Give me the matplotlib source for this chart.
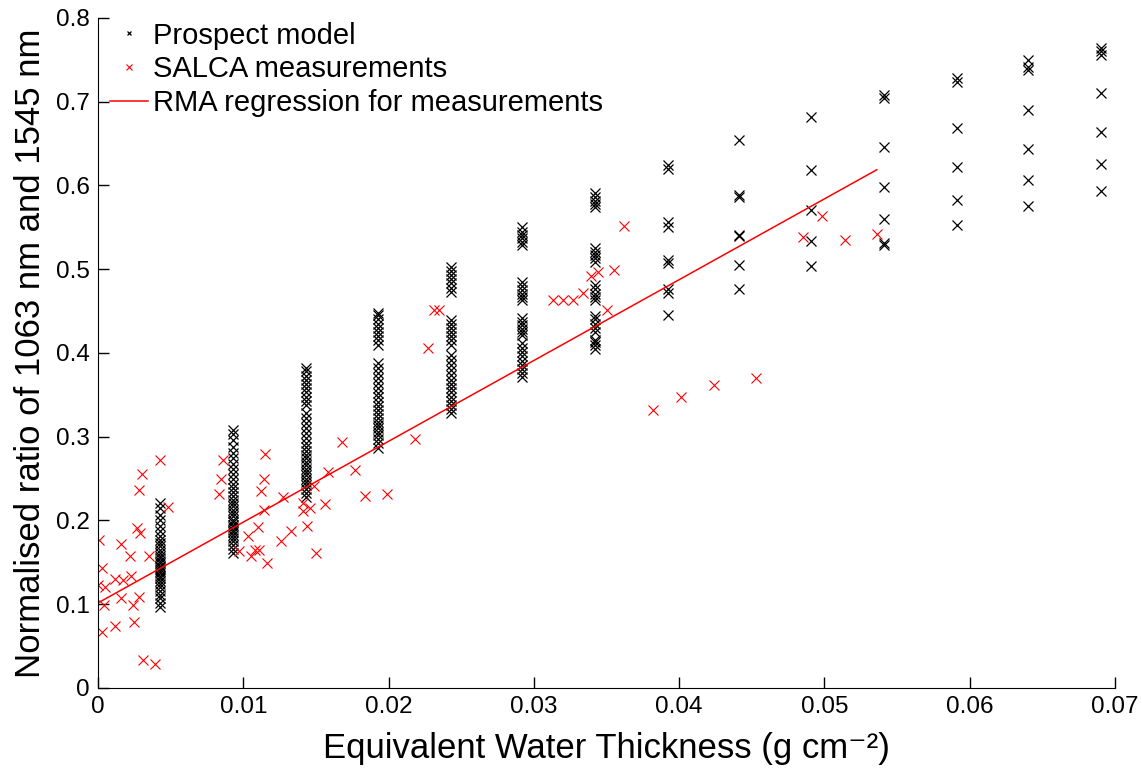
import matplotlib
matplotlib.use("Agg")
from matplotlib import pyplot as plt
import numpy as np

plt.rcParams['font.family'] = ['Liberation Sans', 'DejaVu Sans']

# Prospect model: EWT value of each column and the ratios simulated at it
ewt_model = [0.0043, 0.0093, 0.0143, 0.0193, 0.0243, 0.0292, 0.0342,
             0.0392, 0.0441, 0.0491, 0.0541, 0.0591, 0.0640, 0.0690]
ratio_model = [
    [0.097, 0.102, 0.107, 0.111, 0.116, 0.120, 0.124, 0.128, 0.131, 0.134, 0.137,
     0.140, 0.142, 0.144, 0.146, 0.149, 0.152, 0.155, 0.158, 0.161, 0.165, 0.169,
     0.173, 0.177, 0.182, 0.187, 0.193, 0.200, 0.207, 0.215, 0.221],
    [0.161, 0.166, 0.171, 0.175, 0.179, 0.183, 0.186, 0.189, 0.192, 0.195, 0.198,
     0.201, 0.205, 0.209, 0.213, 0.217, 0.221, 0.225, 0.229, 0.234, 0.239, 0.244,
     0.249, 0.255, 0.261, 0.267, 0.274, 0.281, 0.288, 0.296, 0.303, 0.308],
    [0.228, 0.233, 0.238, 0.242, 0.246, 0.250, 0.254, 0.258, 0.262, 0.266, 0.270,
     0.274, 0.278, 0.283, 0.288, 0.293, 0.298, 0.304, 0.310, 0.316, 0.322, 0.328,
     0.338, 0.343, 0.348, 0.353, 0.358, 0.363, 0.368, 0.373, 0.378, 0.382],
    [0.287, 0.292, 0.297, 0.302, 0.306, 0.310, 0.314, 0.318, 0.322, 0.327, 0.332,
     0.337, 0.342, 0.347, 0.352, 0.358, 0.364, 0.370, 0.376, 0.382, 0.388,
     0.410, 0.415, 0.420, 0.425, 0.430, 0.435, 0.440, 0.445, 0.448],
    [0.328, 0.333, 0.338, 0.343, 0.348, 0.353, 0.358, 0.363, 0.368, 0.374, 0.380,
     0.386, 0.392, 0.398, 0.410, 0.415, 0.420, 0.425, 0.430, 0.435, 0.439,
     0.473, 0.478, 0.483, 0.488, 0.493, 0.498, 0.503],
    [0.371, 0.376, 0.381, 0.386, 0.391, 0.396, 0.401, 0.406, 0.412,
     0.421, 0.425, 0.429, 0.433, 0.437, 0.442, 0.463, 0.467, 0.471, 0.475, 0.480,
     0.485, 0.529, 0.533, 0.537, 0.541, 0.545, 0.550],
    [0.405, 0.409, 0.413, 0.416, 0.425, 0.430, 0.435, 0.440, 0.444, 0.463, 0.467,
     0.471, 0.476, 0.481, 0.509, 0.513, 0.517, 0.521, 0.525, 0.574, 0.578, 0.582,
     0.586, 0.591],
    [0.445, 0.472, 0.476, 0.507, 0.511, 0.551, 0.556, 0.620, 0.624],
    [0.476, 0.505, 0.540, 0.541, 0.586, 0.589, 0.654],
    [0.504, 0.534, 0.571, 0.618, 0.682],
    [0.529, 0.531, 0.560, 0.598, 0.646, 0.704, 0.708],
    [0.553, 0.583, 0.622, 0.669, 0.724, 0.728],
    [0.575, 0.607, 0.644, 0.690, 0.738, 0.742, 0.750],
    [0.593, 0.626, 0.664, 0.710, 0.756, 0.760, 0.764],
]

# SALCA measurements
ewt_salca = [0.0043, 0.0030, 0.0028, 0.0048, 0.0001, 0.0027, 0.0029, 0.0016,
             0.0022, 0.0035, 0.0003, 0.0000, 0.0005, 0.0012, 0.0017, 0.0023,
             0.0004, 0.0016, 0.0024, 0.0028, 0.0012, 0.0025, 0.0003, 0.0031,
             0.0039, 0.0086, 0.0085, 0.0083, 0.0115, 0.0114, 0.0112, 0.0114,
             0.0110, 0.0103, 0.0097, 0.0105, 0.0108, 0.0111, 0.0116, 0.0127,
             0.0126, 0.0133, 0.0141, 0.0141, 0.0146, 0.0144, 0.0149, 0.0156,
             0.0158, 0.0150, 0.0168, 0.0177, 0.0184, 0.0199, 0.0218, 0.0227,
             0.0231, 0.0235, 0.0313, 0.0320, 0.0327, 0.0334, 0.0339, 0.0344,
             0.0355, 0.0350, 0.0362, 0.0382, 0.0401, 0.0424, 0.0453, 0.0485,
             0.0498, 0.0514, 0.0536]
ratio_salca = [0.272, 0.256, 0.236, 0.216, 0.177, 0.191, 0.185, 0.172,
               0.158, 0.158, 0.143, 0.123, 0.121, 0.130, 0.129, 0.134,
               0.099, 0.107, 0.099, 0.109, 0.074, 0.079, 0.067, 0.033,
               0.029, 0.272, 0.250, 0.232, 0.279, 0.250, 0.235, 0.213,
               0.192, 0.181, 0.163, 0.157, 0.165, 0.165, 0.149, 0.228,
               0.176, 0.187, 0.221, 0.211, 0.215, 0.193, 0.241, 0.220,
               0.258, 0.161, 0.294, 0.260, 0.229, 0.232, 0.297, 0.406,
               0.451, 0.451, 0.463, 0.463, 0.463, 0.472, 0.492, 0.497,
               0.499, 0.451, 0.552, 0.332, 0.347, 0.362, 0.370, 0.538,
               0.563, 0.535, 0.542]

# RMA regression (intercept, slope) and its x range
rma_coef = [0.1015, 9.65]
rma_range = [0.0, 0.0536]

fig = plt.figure(figsize=(11.42, 7.71), dpi=100)
ax = fig.add_axes([0.0858, 0.1077, 0.8906, 0.869])

xs = np.concatenate([[x] * len(r) for x, r in zip(ewt_model, ratio_model)])
ys = np.concatenate(ratio_model)
ax.plot(xs, ys, 'x', color='black', markersize=7, markeredgewidth=0.9,
        label='Prospect model')
ax.plot(ewt_salca, ratio_salca, 'x', color='red', markersize=7.5,
        markeredgewidth=0.8, label='SALCA measurements')
lx = np.array(rma_range)
ax.plot(lx, rma_coef[0] + rma_coef[1] * lx, '-', color='red', linewidth=1.1,
        label='RMA regression for measurements')

ax.set_xlim(0, 0.07)
ax.set_ylim(0, 0.8)
ax.set_xticks([0, 0.01, 0.02, 0.03, 0.04, 0.05, 0.06, 0.07])
ax.set_xticklabels(['0', '0.01', '0.02', '0.03', '0.04', '0.05', '0.06', '0.07'])
ax.set_yticks([0, 0.1, 0.2, 0.3, 0.4, 0.5, 0.6, 0.7, 0.8])
ax.set_yticklabels(['0', '0.1', '0.2', '0.3', '0.4', '0.5', '0.6', '0.7', '0.8'])
ax.tick_params(direction='in', length=8, width=1, labelsize=17.5, pad=6)
ax.spines['top'].set_visible(False)
ax.spines['right'].set_visible(False)
ax.set_xlabel('Equivalent Water Thickness (g cm\u207b\u00b2)', fontsize=25,
              labelpad=10)
ax.set_ylabel('Normalised ratio of 1063 nm and 1545 nm', fontsize=25,
              labelpad=6)

leg = ax.legend(loc='upper left', frameon=False, fontsize=21, markerscale=0.5,
                handlelength=1.3, handletextpad=0.17, borderaxespad=0.0,
                labelspacing=0.2, bbox_to_anchor=(0.0, 1.012))

fig.savefig('out.png', dpi=100)
